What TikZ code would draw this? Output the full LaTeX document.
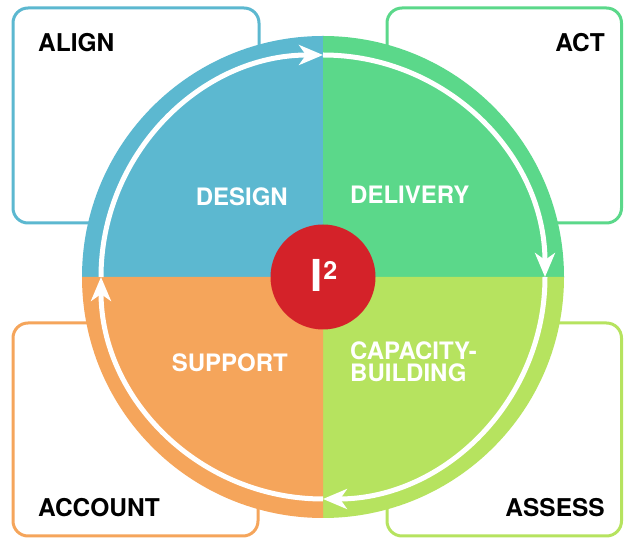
\documentclass[tikz,border=0pt]{standalone}
\usepackage{fontspec}
\setmainfont{TeX Gyre Heros}
\usetikzlibrary{arrows.meta,calc}

\definecolor{designblue}{HTML}{5CB8D0}
\definecolor{deliverygreen}{HTML}{5BD88A}
\definecolor{capacitylime}{HTML}{B6E35F}
\definecolor{supportorange}{HTML}{F5A55B}
\definecolor{centrered}{HTML}{D42229}

\begin{document}
\begin{tikzpicture}[x=1pt,y=1pt,
    stagebox/.style={draw, line width=3pt, rounded corners=15pt, fill=white},
    outerlabel/.style={font=\fontsize{24.5}{26}\selectfont\bfseries, inner sep=0pt},
    innerlabel/.style={font=\fontsize{24}{22}\selectfont\bfseries, text=white, inner sep=0pt, align=left},
    cycleline/.style={draw=white, line width=5pt, -{Stealth[length=24pt,width=20pt,inset=7pt]}}]
            \useasboundingbox (0,0) rectangle (624,538);
            % the four boxes behind the wheel
            \draw [stagebox, draw=designblue] (13,530) rectangle (259,315);
            \draw [stagebox, draw=deliverygreen] (387,530) rectangle (621.5,315);
            \draw [stagebox, draw=supportorange] (13,215) rectangle (258,2);
            \draw [stagebox, draw=capacitylime] (387,215) rectangle (621.5,2);
            \node [outerlabel, anchor=west] (align) at (38,495) {ALIGN};
            \node [outerlabel, anchor=east] (act) at (605,495) {ACT};
            \node [outerlabel, anchor=west] (account) at (38,30) {ACCOUNT};
            \node [outerlabel, anchor=east] (assess) at (605,30) {ASSESS};
            % the wheel
            \coordinate (c) at (323,261);
            \fill [designblue] (c) -- ++(180:241) arc [start angle=180, end angle=90, radius=241] -- cycle;
            \fill [deliverygreen] (c) -- ++(90:241) arc [start angle=90, end angle=0, radius=241] -- cycle;
            \fill [capacitylime] (c) -- ++(0:241) arc [start angle=0, end angle=-90, radius=241] -- cycle;
            \fill [supportorange] (c) -- ++(-90:241) arc [start angle=-90, end angle=-180, radius=241] -- cycle;
            \draw [cycleline] ($(c)+(180:222)$) arc [start angle=180, end angle=90, radius=222];
            \draw [cycleline] ($(c)+(90:222)$) arc [start angle=90, end angle=0, radius=222];
            \draw [cycleline] ($(c)+(0:222)$) arc [start angle=0, end angle=-90, radius=222];
            \draw [cycleline] ($(c)+(-90:222)$) arc [start angle=-90, end angle=-180, radius=222];
            \node [innerlabel, anchor=east] (design) at (288,341) {DESIGN};
            \node [innerlabel, anchor=west] (delivery) at (350,343) {DELIVERY};
            \node [innerlabel, anchor=east] (support) at (288,175) {SUPPORT};
            \node [innerlabel, anchor=west] (capacity) at (350,176) {CAPACITY-\\BUILDING};
            % centre
            \fill [centrered] (c) circle (52.5);
            \node [inner sep=0pt, text=white, anchor=base west, font=\bfseries] (isq) at (310,246)
                {\fontsize{44}{44}\selectfont I\kern1pt\raisebox{12pt}{\fontsize{25}{25}\selectfont 2}};
        \end{tikzpicture}
\end{document}
